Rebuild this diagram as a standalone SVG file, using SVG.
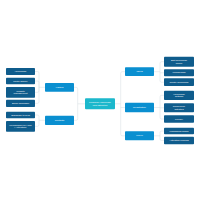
<svg xmlns="http://www.w3.org/2000/svg" width="200" height="200" viewBox="0 0 200 200">
<style>
.c{fill:none;stroke:#d5dde2;stroke-width:0.5}
.leaf{fill:#0f5c8c}
.mid{fill:#0a8fd0}
.ctr{fill:#1cb8cc}
text{font-family:"Liberation Sans",Arial,sans-serif;font-size:2.4px;fill:#ffffff;text-anchor:middle;dominant-baseline:central}
</style>
<rect width="200" height="200" fill="#ffffff"/>
<g id="connectors">
<path class="c" d="M85,103.8 H77.7"/>
<path class="c" d="M74,87.3 H76.2 Q77.7,87.3 77.7,88.8 V118.8 Q77.7,120.3 76.2,120.3 H74"/>
<path class="c" d="M35,71.5 H37.5 Q39,71.5 39,73 V87.3 H45"/>
<path class="c" d="M35,81 H37.5 Q39,81 39,82.5 V87.3"/>
<path class="c" d="M35,92.3 H37.5 Q39,92.3 39,90.8 V87.3"/>
<path class="c" d="M35,103.3 H37.5 Q39,103.3 39,101.8 V87.3"/>
<path class="c" d="M35,115 H37.5 Q39,115 39,116.5 V120.3 H45"/>
<path class="c" d="M35,126.3 H37.5 Q39,126.3 39,124.8 V120.3"/>
<path class="c" d="M115,103.8 H120.7"/>
<path class="c" d="M125,71.7 H122.2 Q120.7,71.7 120.7,73.2 V134.3 Q120.7,135.8 122.2,135.8 H125"/>
<path class="c" d="M120.7,107.5 H125"/>
<path class="c" d="M154,71.7 H160"/>
<path class="c" d="M164,61.7 H161.5 Q160,61.7 160,63.2 V80.7 Q160,82.2 161.5,82.2 H164"/>
<path class="c" d="M160,72.8 H164"/>
<path class="c" d="M154,107.5 H160"/>
<path class="c" d="M164,95.3 H161.5 Q160,95.3 160,96.8 V117.5 Q160,119 161.5,119 H164"/>
<path class="c" d="M160,107.8 H164"/>
<path class="c" d="M154,135.8 H160"/>
<path class="c" d="M164,131 H161.5 Q160,131 160,132.5 V139 Q160,140.5 161.5,140.5 H164"/>
</g>
<g id="center"><rect class="ctr" x="85" y="98.3" width="30" height="11" rx="1"/><text x="100" y="102.6">Personal Homepage</text><text x="100" y="105.4">Web Structure</text></g>
<g id="visitors"><rect class="mid" x="45" y="83" width="29" height="8.7" rx="0.8"/><text x="59.5" y="87.3">Visitors</text></g>
<g id="contacts"><rect class="mid" x="45" y="115.8" width="29" height="9.2" rx="0.8"/><text x="59.5" y="120.4">Contacts</text></g>
<g id="l1"><rect class="leaf" x="6" y="68" width="29" height="7" rx="0.8"/><text x="20.5" y="71.5">Homepage</text></g>
<g id="l2"><rect class="leaf" x="6" y="77.7" width="29" height="6.6" rx="0.8"/><text x="20.5" y="81">Photo Gallery</text></g>
<g id="l3"><rect class="leaf" x="6" y="87" width="29" height="10.7" rx="0.8"/><text x="20.5" y="91">Website</text><text x="20.5" y="93.8">management</text></g>
<g id="l4"><rect class="leaf" x="6" y="99.7" width="29" height="7.3" rx="0.8"/><text x="20.5" y="103.3">Email campaign</text></g>
<g id="l5"><rect class="leaf" x="6" y="111.7" width="29" height="6.6" rx="0.8"/><text x="20.5" y="115">Subscribe to feed</text></g>
<g id="l6"><rect class="leaf" x="6" y="121" width="29" height="10.7" rx="0.8"/><text x="20.5" y="125">Membership fee (join</text><text x="20.5" y="127.8">/ Activation)</text></g>
<g id="users"><rect class="mid" x="125" y="67.3" width="29" height="8.7" rx="0.8"/><text x="139.5" y="71.7">Users</text></g>
<g id="registration"><rect class="mid" x="125" y="102.7" width="29" height="9.6" rx="0.8"/><text x="139.5" y="107.5">Registration</text></g>
<g id="login"><rect class="mid" x="125" y="131.3" width="29" height="9" rx="0.8"/><text x="139.5" y="135.8">Log in</text></g>
<g id="r1"><rect class="leaf" x="164" y="56.7" width="30" height="10" rx="0.8"/><text x="179" y="60.4">Edit homepage</text><text x="179" y="63.1">profile</text></g>
<g id="r2"><rect class="leaf" x="164" y="69.3" width="30" height="7" rx="0.8"/><text x="179" y="72.8">Membership</text></g>
<g id="r3"><rect class="leaf" x="164" y="78.3" width="30" height="7.7" rx="0.8"/><text x="179" y="82.2">Create homepage</text></g>
<g id="r4"><rect class="leaf" x="164" y="90.7" width="30" height="9.3" rx="0.8"/><text x="179" y="94">Homepage</text><text x="179" y="96.7">settings</text></g>
<g id="r5"><rect class="leaf" x="164" y="103.3" width="30" height="9" rx="0.8"/><text x="179" y="106.5">Conference</text><text x="179" y="109.2">activities</text></g>
<g id="r6"><rect class="leaf" x="164" y="115.3" width="30" height="7.4" rx="0.8"/><text x="179" y="119">Privacy</text></g>
<g id="r7"><rect class="leaf" x="164" y="127.7" width="30" height="6.6" rx="0.8"/><text x="179" y="131">Forwarding pages</text></g>
<g id="r8"><rect class="leaf" x="164" y="136.7" width="30" height="7.6" rx="0.8"/><text x="179" y="140.5">Activation process</text></g>
</svg>
